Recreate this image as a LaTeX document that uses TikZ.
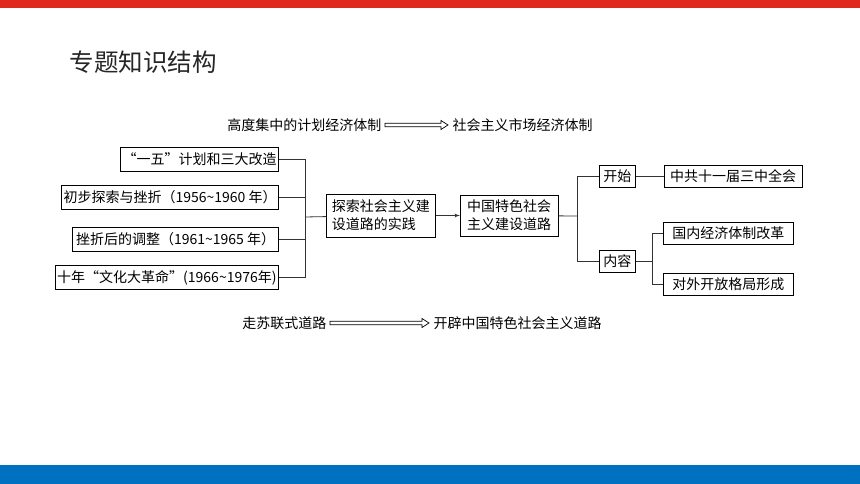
\documentclass[tikz,border=0pt]{standalone}
\usepackage{fontspec}
\newfontfamily\cjk{Noto Sans CJK SC}
\usetikzlibrary{arrows,positioning}
\definecolor{topred}{RGB}{224,42,32}
\definecolor{barblue}{RGB}{0,112,192}
% hollow double arrow from node #1 to node #2
\newcommand{\hollowarrow}[2]{%
    \draw[line width=0.7pt, line join=miter]
        ([yshift=-1.8pt]#1.east) -- ([xshift=-8pt,yshift=-1.8pt]#2.west)
        -- ([xshift=-8pt,yshift=-4.5pt]#2.west) -- ([xshift=-1pt]#2.west)
        -- ([xshift=-8pt,yshift=4.5pt]#2.west) -- ([xshift=-8pt,yshift=1.8pt]#2.west)
        -- ([yshift=1.8pt]#1.east) -- cycle;}

\begin{document}
\begin{tikzpicture}[x=1pt, y=-1pt, font=\cjk\fontsize{14}{18}\selectfont]
    \tikzstyle{block} = [rectangle, draw, line width=0.8pt, inner xsep=2pt,
        inner ysep=2pt, minimum height=24pt]
    \tikzstyle{line} = [draw, line width=0.8pt, color=black!80]

    % page and coloured bars
    \useasboundingbox (0,0) rectangle (860,484);
    \fill[topred] (0,0) rectangle (860,8);
    \fill[barblue] (0,465) rectangle (860,484);
    \node[anchor=west, font=\cjk\fontsize{24.5}{28}\selectfont, text=black!85] (title) at (66,62) {专题知识结构};

    % top and bottom change lines
    \node[anchor=east] (planned) at (385,125) {高度集中的计划经济体制};
    \node[anchor=west] (market) at (449,125) {社会主义市场经济体制};
    \hollowarrow{planned}{market}
    \node[anchor=east] (soviet) at (330,323) {走苏联式道路};
    \node[anchor=west] (newroad) at (430,323) {开辟中国特色社会主义道路};
    \hollowarrow{soviet}{newroad}

    % left stages
    \node[block, anchor=east, minimum width=156pt] (plan) at (279,159) {“一五”计划和三大改造};
    \node[block, anchor=east, minimum width=216pt] (first) at (279,197.5) {初步探索与挫折（1956\textasciitilde1960 年）};
    \node[block, anchor=east, minimum width=206pt] (adjust) at (279,239) {挫折后的调整（1961\textasciitilde1965 年）};
    \node[block, anchor=east, minimum width=221pt] (decade) at (279,277.5) {十年“文化大革命”(1966\textasciitilde1976年)};
    \coordinate (forkA) at (305,217);

    % middle
    \node[block, anchor=west, minimum width=109pt, minimum height=43pt, align=left] (explore) at (326,215.5) {探索社会主义建\\设道路的实践};
    \node[block, right=24pt of explore, minimum width=98pt, minimum height=41pt, align=center] (road) {中国特色社会\\主义建设道路};
    \coordinate (forkB) at (577,216);

    % right branches
    \node[block, anchor=west, minimum width=36pt, minimum height=22pt] (start) at (599,176) {开始};
    \node[block, anchor=west, minimum width=36pt, minimum height=22pt] (content) at (599,261) {内容};
    \node[block, right=28pt of start, minimum width=138pt, minimum height=22pt] (plenum) {中共十一届三中全会};
    \coordinate (forkC) at (652,261);
    \node[block, anchor=west, minimum width=130pt, minimum height=22pt] (reform) at (663,233.5) {国内经济体制改革};
    \node[block, anchor=west, minimum width=130pt, minimum height=22pt] (opening) at (663,284) {对外开放格局形成};

    \path [line] (plan) -| (forkA);
    \path [line] (first) -| (forkA);
    \path [line] (adjust) -| (forkA);
    \path [line] (decade) -| (forkA);
    \path [line] (forkA) -- (explore);
    \path [line, -latex'] (explore) -- (road);
    \path [line] (road) -- (forkB);
    \path [line] (forkB) |- (start);
    \path [line] (forkB) |- (content);
    \path [line] (start) -- (plenum);
    \path [line] (content) -- (forkC);
    \path [line] (forkC) |- (reform);
    \path [line] (forkC) |- (opening);
\end{tikzpicture}
\end{document}
